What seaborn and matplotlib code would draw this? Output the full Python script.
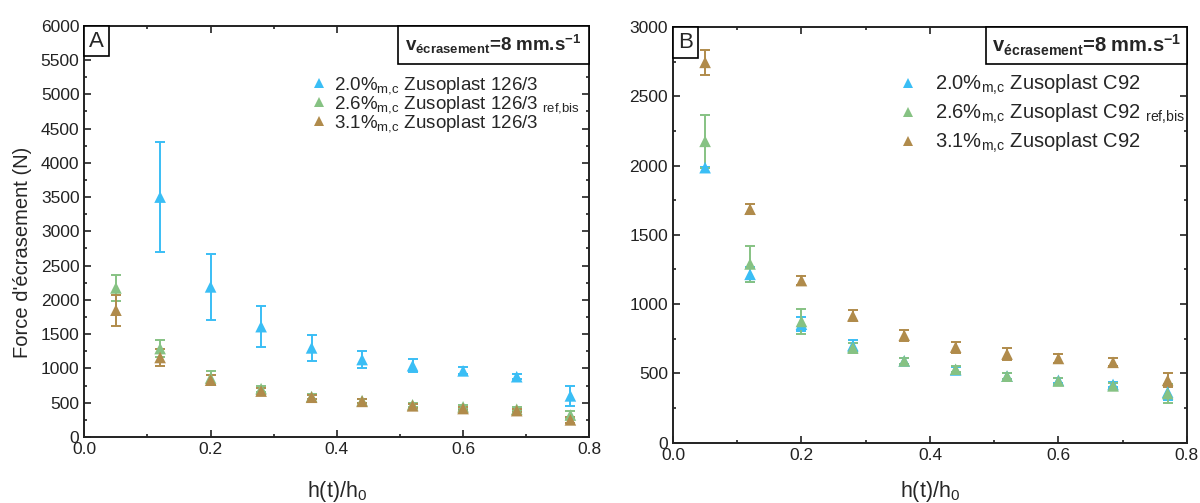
import pandas as pd
import numpy as np
import matplotlib
matplotlib.use("Agg")
import matplotlib.pyplot as plt
import seaborn as sns
from matplotlib.offsetbox import AnchoredText
from matplotlib.ticker import MultipleLocator

# ---- data ----
h_ratio = [0.05, 0.12, 0.20, 0.28, 0.36, 0.44, 0.52, 0.60, 0.685, 0.77]

# panel A : Zusoplast 126/3
a_blue_x = h_ratio[1:]
a_blue = [3500, 2190, 1610, 1300, 1130, 1040, 965, 880, 600]
a_blue_err = [800, 485, 300, 195, 130, 97, 50, 35, 150]
a_green = [2175, 1290, 860, 705, 590, 530, 470, 440, 405, 320]
a_green_err = [195, 125, 100, 45, 35, 30, 30, 30, 30, 60]
a_brown = [1850, 1160, 830, 670, 580, 520, 455, 415, 385, 250]
a_brown_err = [225, 130, 75, 40, 30, 30, 25, 25, 25, 40]

# panel B : Zusoplast C92
b_blue = [1985, 1215, 855, 700, 590, 525, 480, 450, 420, 365]
b_blue_err = [5, 55, 50, 40, 20, 20, 20, 20, 20, 60]
b_green = [2175, 1290, 875, 685, 590, 530, 480, 445, 410, 355]
b_green_err = [190, 130, 90, 35, 20, 20, 20, 20, 20, 70]
b_brown = [2745, 1685, 1170, 915, 775, 690, 640, 608, 580, 450]
b_brown_err = [90, 35, 35, 40, 40, 40, 40, 35, 30, 50]

labels_a = [r"2.0%$_{\mathrm{m{,}c}}$ Zusoplast 126/3",
            r"2.6%$_{\mathrm{m{,}c}}$ Zusoplast 126/3 $_{\mathrm{ref{,}bis}}$",
            r"3.1%$_{\mathrm{m{,}c}}$ Zusoplast 126/3"]
labels_b = [r"2.0%$_{\mathrm{m{,}c}}$ Zusoplast C92",
            r"2.6%$_{\mathrm{m{,}c}}$ Zusoplast C92 $_{\mathrm{ref{,}bis}}$",
            r"3.1%$_{\mathrm{m{,}c}}$ Zusoplast C92"]
colors = ["#3ABEF5", "#86C283", "#B08B4B"]

sns.set_style("ticks")
plt.rcParams['font.family'] = ['Liberation Sans', 'DejaVu Sans']
plt.rcParams['mathtext.fontset'] = 'custom'
plt.rcParams['mathtext.rm'] = 'Liberation Sans'
plt.rcParams['mathtext.it'] = 'Liberation Sans:italic'
plt.rcParams['mathtext.bf'] = 'Liberation Sans:bold'


def build_frame(xs, ys, errs, labels):
    parts = []
    for x, y, e, lab in zip(xs, ys, errs, labels):
        parts.append(pd.DataFrame({"h": x, "force": y, "err": e, "serie": lab}))
    return pd.concat(parts, ignore_index=True)


def draw_panel(ax, df, labels, ymax, letter, leg_size, leg_anchor, leg_kw,
               box_size, box_pad, xlab_pad):
    for lab, col in zip(labels, colors):
        sub = df[df["serie"] == lab]
        ax.errorbar(sub["h"], sub["force"], yerr=sub["err"], fmt="none",
                    ecolor=col, elinewidth=1.4, capsize=3.5, capthick=1.4, zorder=2)
    sns.scatterplot(data=df, x="h", y="force", hue="serie", hue_order=labels,
                    palette=colors, marker="^", s=70, linewidth=0, ax=ax, zorder=3)
    ax.set_xlim(0, 0.8)
    ax.set_ylim(0, ymax)
    ax.xaxis.set_major_locator(MultipleLocator(0.2))
    ax.xaxis.set_minor_locator(MultipleLocator(0.1))
    ax.yaxis.set_major_locator(MultipleLocator(500))
    ax.yaxis.set_minor_locator(MultipleLocator(250))
    ax.xaxis.set_major_formatter(matplotlib.ticker.FormatStrFormatter("%.1f"))
    ax.tick_params(which="both", direction="in", top=True, right=True,
                   width=1.2, labelsize=12.5, colors="#222222")
    ax.tick_params(which="major", length=5)
    ax.tick_params(which="minor", length=2.5)
    for sp in ax.spines.values():
        sp.set_linewidth(1.4)
        sp.set_color("#222222")
    ax.set_xlabel(r"h(t)/h$_{\mathrm{0}}$", fontsize=15.5, labelpad=xlab_pad)
    ax.set_ylabel("")

    sns.move_legend(ax, loc="upper left", bbox_to_anchor=leg_anchor, frameon=False,
                    title=None, fontsize=leg_size, borderpad=0, borderaxespad=0, **leg_kw)

    letter_box = AnchoredText(letter, loc="upper left", pad=0.22, borderpad=0,
                              prop=dict(size=16), frameon=True)
    letter_box.patch.set_linewidth(1.2)
    letter_box.patch.set_boxstyle("square,pad=0")
    ax.add_artist(letter_box)

    speed = AnchoredText(r"v$_{\mathbf{écrasement}}$=8 mm.s$^{\mathbf{-1}}$",
                         loc="upper right", pad=box_pad, borderpad=0,
                         prop=dict(size=box_size, weight="bold"), frameon=True)
    speed.patch.set_linewidth(1.2)
    speed.patch.set_boxstyle("square,pad=0")
    ax.add_artist(speed)


fig = plt.figure(figsize=(12, 5.03), dpi=100)
ax_a = fig.add_axes([0.0703, 0.1312, 0.4208, 0.8177])
ax_b = fig.add_axes([0.5608, 0.1199, 0.4283, 0.8264])

df_a = build_frame([a_blue_x, h_ratio, h_ratio], [a_blue, a_green, a_brown],
                   [a_blue_err, a_green_err, a_brown_err], labels_a)
df_b = build_frame([h_ratio, h_ratio, h_ratio], [b_blue, b_green, b_brown],
                   [b_blue_err, b_green_err, b_brown_err], labels_b)

draw_panel(ax_a, df_a, labels_a, 6000, "A", 13.5, (0.449, 0.88),
           dict(handlelength=0.8, handletextpad=0.4, labelspacing=-0.1, markerscale=0.8),
           13.5, 0.4, 16)
draw_panel(ax_b, df_b, labels_b, 3000, "B", 14.5, (0.434, 0.89),
           dict(handlelength=1.2, handletextpad=0.75, labelspacing=0.25, markerscale=0.8),
           14.5, 0.3, 12)
ax_a.set_ylabel("Force d'écrasement (N)", fontsize=14.5)
ax_a.yaxis.set_label_coords(-0.103, 0.45)

fig.savefig("out.png", dpi=100)
